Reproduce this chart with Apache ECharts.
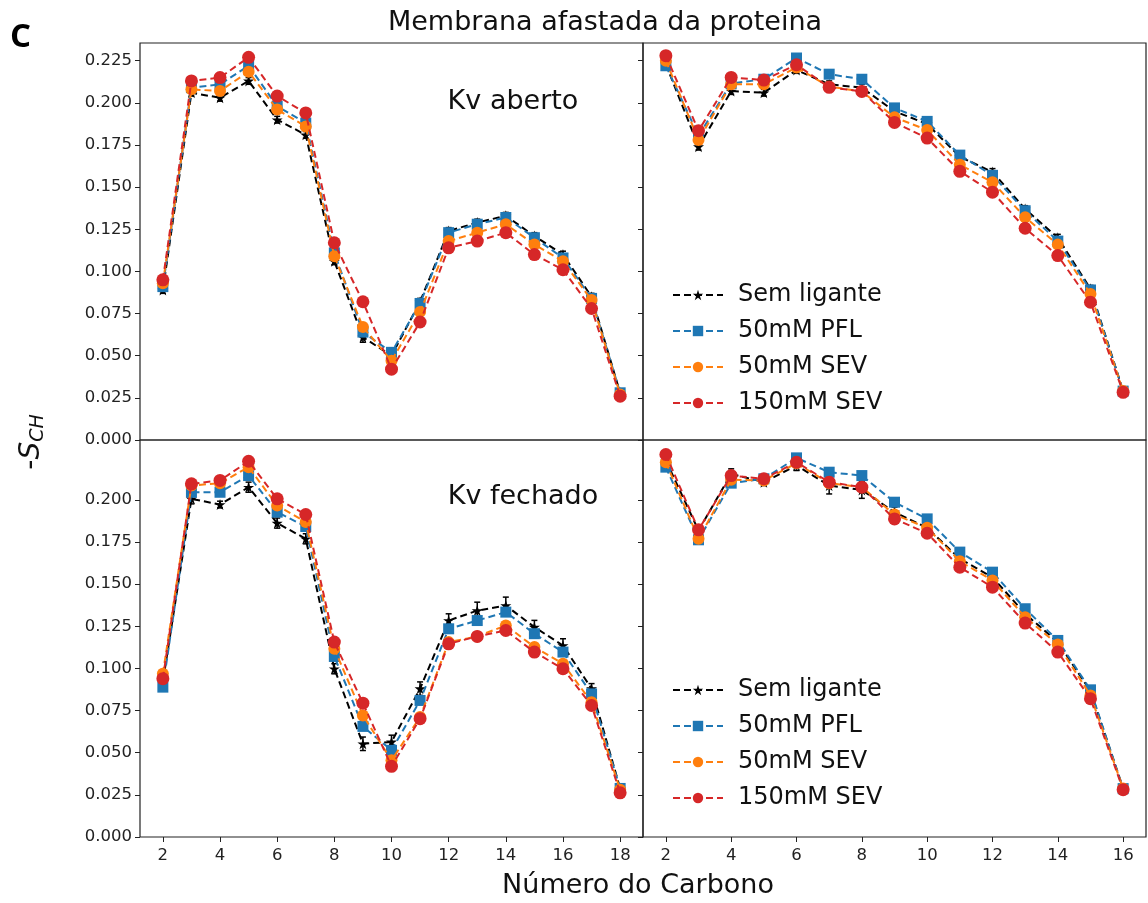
<!DOCTYPE html>
<html>
<head>
<meta charset="utf-8">
<script src="https://cdn.jsdelivr.net/npm/echarts@6/dist/echarts.min.js"></script>
<style>
  html, body { margin: 0; padding: 0; background: #fff; }
  #main { width: 1148px; height: 903px; }
</style>
</head>
<body>
<div id="main"></div>
<script>
// eixo x (numero do carbono)
const carbonLeft = [2, 3, 4, 5, 6, 7, 8, 9, 10, 11, 12, 13, 14, 15, 16, 17, 18];
const carbonRight = [2, 3, 4, 5, 6, 7, 8, 9, 10, 11, 12, 13, 14, 15, 16];
const xTicksLeft = [2, 4, 6, 8, 10, 12, 14, 16, 18];
const xTicksRight = [2, 4, 6, 8, 10, 12, 14, 16];
const yTicksTop = [0, 0.025, 0.05, 0.075, 0.1, 0.125, 0.15, 0.175, 0.2, 0.225];
const yTicksBottom = [0, 0.025, 0.05, 0.075, 0.1, 0.125, 0.15, 0.175, 0.2];

const seriesNames = ["Sem ligante", "50mM PFL", "50mM SEV", "150mM SEV"];

// Kv aberto - painel esquerdo
const abertoEsqSem = [0.089, 0.206, 0.203, 0.213, 0.190, 0.181, 0.106, 0.061, 0.050, 0.082, 0.124, 0.129, 0.133, 0.121, 0.110, 0.085, 0.028];
const abertoEsqPfl = [0.091, 0.209, 0.211, 0.222, 0.198, 0.188, 0.111, 0.064, 0.052, 0.081, 0.123, 0.128, 0.132, 0.120, 0.108, 0.084, 0.028];
const abertoEsqSev50 = [0.093, 0.208, 0.207, 0.2185, 0.196, 0.186, 0.109, 0.067, 0.047, 0.076, 0.118, 0.123, 0.128, 0.116, 0.106, 0.083, 0.027];
const abertoEsqSev150 = [0.095, 0.213, 0.215, 0.227, 0.204, 0.194, 0.117, 0.082, 0.042, 0.070, 0.114, 0.118, 0.123, 0.110, 0.101, 0.078, 0.026];
const abertoEsqErr = [0.002, 0.002, 0.002, 0.002, 0.002, 0.002, 0.002, 0.003, 0.002, 0.002, 0.002, 0.002, 0.002, 0.002, 0.002, 0.002, 0.001];

// Kv aberto - painel direito
const abertoDirSem = [0.223, 0.174, 0.207, 0.206, 0.2195, 0.211, 0.209, 0.195, 0.1875, 0.168, 0.159, 0.137, 0.120, 0.0897, 0.029];
const abertoDirPfl = [0.222, 0.1805, 0.2115, 0.214, 0.2266, 0.217, 0.214, 0.197, 0.189, 0.169, 0.157, 0.136, 0.118, 0.089, 0.029];
const abertoDirSev50 = [0.225, 0.178, 0.211, 0.211, 0.221, 0.2096, 0.2068, 0.1914, 0.1839, 0.1633, 0.1529, 0.1321, 0.1159, 0.0866, 0.029];
const abertoDirSev150 = [0.228, 0.1835, 0.2151, 0.2135, 0.2226, 0.2092, 0.2068, 0.1884, 0.1791, 0.1594, 0.147, 0.1256, 0.1094, 0.0817, 0.0283];
const abertoDirErr = [0.002, 0.002, 0.002, 0.002, 0.002, 0.002, 0.002, 0.002, 0.002, 0.002, 0.002, 0.002, 0.002, 0.002, 0.001];

// Kv fechado - painel esquerdo
const fechadoEsqSem = [0.092, 0.2006, 0.1972, 0.2075, 0.1862, 0.1769, 0.0998, 0.0553, 0.0564, 0.088, 0.1284, 0.1343, 0.1373, 0.1245, 0.1136, 0.088, 0.0288];
const fechadoEsqPfl = [0.0889, 0.2045, 0.2045, 0.2144, 0.1927, 0.1842, 0.1071, 0.0656, 0.0514, 0.081, 0.1235, 0.1284, 0.1334, 0.1206, 0.1097, 0.0849, 0.0288];
const fechadoEsqSev50 = [0.0968, 0.2085, 0.2099, 0.2194, 0.1966, 0.1868, 0.1117, 0.0721, 0.0455, 0.0712, 0.1156, 0.119, 0.1255, 0.1127, 0.1028, 0.080, 0.028];
const fechadoEsqSev150 = [0.0939, 0.2095, 0.2115, 0.2229, 0.2006, 0.1913, 0.1156, 0.0794, 0.0419, 0.0702, 0.1146, 0.119, 0.1225, 0.1097, 0.0998, 0.078, 0.0262];
const fechadoEsqErr = [0.002, 0.003, 0.002, 0.003, 0.003, 0.003, 0.003, 0.004, 0.004, 0.004, 0.004, 0.005, 0.005, 0.004, 0.004, 0.003, 0.002];

// Kv fechado - painel direito
const fechadoDirSem = [0.2233, 0.1818, 0.2154, 0.2105, 0.2204, 0.2085, 0.2059, 0.1927, 0.1834, 0.165, 0.1541, 0.1324, 0.1156, 0.0865, 0.0287];
const fechadoDirPfl = [0.2194, 0.1763, 0.2099, 0.2125, 0.2249, 0.2164, 0.2144, 0.1986, 0.1887, 0.169, 0.1571, 0.1354, 0.1166, 0.0873, 0.0287];
const fechadoDirSev50 = [0.2223, 0.1769, 0.2119, 0.2115, 0.2217, 0.2099, 0.2075, 0.1913, 0.1834, 0.1636, 0.1522, 0.1304, 0.1142, 0.084, 0.0287];
const fechadoDirSev150 = [0.2269, 0.1822, 0.2144, 0.2125, 0.2223, 0.2105, 0.2075, 0.1887, 0.1802, 0.16, 0.1482, 0.1269, 0.1097, 0.082, 0.0281];
const fechadoDirErr = [0.002, 0.002, 0.003, 0.002, 0.003, 0.005, 0.005, 0.003, 0.003, 0.003, 0.003, 0.003, 0.003, 0.002, 0.002];

const FONT = "DejaVu Sans";
const colors = ["#000000", "#1f77b4", "#ff7f0e", "#d62728"];
const starPath = "path://M0,-1 L0.22,-0.31 L0.95,-0.31 L0.36,0.12 L0.59,0.81 L0,0.38 L-0.59,0.81 L-0.36,0.12 L-0.95,-0.31 L-0.22,-0.31 Z";
const symbols = [starPath, "rect", "circle", "circle"];
const symbolSizes = [11, 11, 12, 13];

// paineis: x, series e erros
const panels = [
  { x: carbonLeft, ys: [abertoEsqSem, abertoEsqPfl, abertoEsqSev50, abertoEsqSev150], err: abertoEsqErr },
  { x: carbonRight, ys: [abertoDirSem, abertoDirPfl, abertoDirSev50, abertoDirSev150], err: abertoDirErr },
  { x: carbonLeft, ys: [fechadoEsqSem, fechadoEsqPfl, fechadoEsqSev50, fechadoEsqSev150], err: fechadoEsqErr },
  { x: carbonRight, ys: [fechadoDirSem, fechadoDirPfl, fechadoDirSev50, fechadoDirSev150], err: fechadoDirErr },
];

const gridBox = [
  { left: 140, top: 43 },
  { left: 643, top: 43 },
  { left: 140, top: 440 },
  { left: 643, top: 440 },
];

const chart = echarts.init(document.getElementById("main"));

const grid = gridBox.map((g) => ({
  left: g.left,
  top: g.top,
  width: 503,
  height: 397,
  show: true,
  borderColor: "#222",
  borderWidth: 1.2,
  backgroundColor: "transparent",
}));

const xAxis = gridBox.map((g, i) => {
  const isLeft = i % 2 === 0;
  const isBottom = i >= 2;
  return {
    type: "value",
    gridIndex: i,
    min: isLeft ? 1.2 : 1.3,
    max: isLeft ? 18.8 : 16.7,
    axisLine: { show: false },
    splitLine: { show: false },
    axisTick: {
      show: isBottom,
      length: 5,
      lineStyle: { color: "#222", width: 1 },
      customValues: isLeft ? xTicksLeft : xTicksRight,
    },
    axisLabel: {
      show: isBottom,
      fontFamily: FONT,
      fontSize: 16.5,
      color: "#222",
      margin: 10,
      customValues: isLeft ? xTicksLeft : xTicksRight,
    },
  };
});

const yAxis = gridBox.map((g, i) => {
  const isLeft = i % 2 === 0;
  const ticks = i < 2 ? yTicksTop : yTicksBottom;
  return {
    type: "value",
    gridIndex: i,
    min: 0,
    max: 0.2355,
    axisLine: { show: false },
    splitLine: { show: false },
    axisTick: {
      show: true,
      length: 5,
      lineStyle: { color: "#222", width: 1 },
      customValues: ticks,
    },
    axisLabel: {
      show: isLeft,
      fontFamily: FONT,
      fontSize: 16.5,
      color: "#222",
      margin: 8,
      customValues: ticks,
      formatter: (v) => v.toFixed(3),
    },
  };
});

// barras de erro (somente "Sem ligante")
function renderErr(params, api) {
  const x = api.value(0);
  const lo = api.coord([x, api.value(1)]);
  const hi = api.coord([x, api.value(2)]);
  const style = { stroke: "#000", lineWidth: 1.5 };
  return {
    type: "group",
    children: [
      { type: "line", shape: { x1: lo[0], y1: lo[1], x2: hi[0], y2: hi[1] }, style },
      { type: "line", shape: { x1: lo[0] - 3, y1: lo[1], x2: lo[0] + 3, y2: lo[1] }, style },
      { type: "line", shape: { x1: hi[0] - 3, y1: hi[1], x2: hi[0] + 3, y2: hi[1] }, style },
    ],
  };
}

const series = [];
panels.forEach((p, i) => {
  p.ys.forEach((ys, k) => {
    series.push({
      name: seriesNames[k],
      type: "line",
      xAxisIndex: i,
      yAxisIndex: i,
      data: p.x.map((c, j) => [c, ys[j]]),
      symbol: symbols[k],
      symbolSize: symbolSizes[k],
      showAllSymbol: true,
      color: colors[k],
      itemStyle: { color: colors[k] },
      lineStyle: { color: colors[k], width: 2, type: [7, 4] },
      animation: false,
      z: 3 + k,
    });
    if (k === 0) {
      series.push({
        name: "erro",
        type: "custom",
        xAxisIndex: i,
        yAxisIndex: i,
        renderItem: renderErr,
        data: p.x.map((c, j) => [c, ys[j] - p.err[j], ys[j] + p.err[j]]),
        animation: false,
        z: 3,
      });
    }
  });
});

const legendBase = {
  data: seriesNames,
  orient: "vertical",
  left: 667,
  itemWidth: 50,
  itemHeight: 13,
  itemGap: 12,
  selectedMode: false,
  textStyle: { fontFamily: FONT, fontSize: 24, color: "#111", padding: [0, 0, 0, 10] },
};

chart.setOption({
  backgroundColor: "#fff",
  animation: false,
  grid,
  xAxis,
  yAxis,
  legend: [
    Object.assign({}, legendBase, { top: 278 }),
    Object.assign({}, legendBase, { top: 673 }),
  ],
  graphic: [
    { type: "text", left: 10, top: 21, style: { text: "C", fontFamily: "Open Sans", fontWeight: "bold", fontSize: 33, fill: "#000" } },
    { type: "text", x: 605, y: 23, style: { text: "Membrana afastada da proteina", fontFamily: FONT, fontSize: 27, fill: "#111", align: "center", verticalAlign: "middle" } },
    { type: "text", x: 513, y: 102, style: { text: "Kv aberto", fontFamily: FONT, fontSize: 27, fill: "#111", align: "center", verticalAlign: "middle" } },
    { type: "text", x: 523, y: 497, style: { text: "Kv fechado", fontFamily: FONT, fontSize: 27, fill: "#111", align: "center", verticalAlign: "middle" } },
    { type: "text", x: 638, y: 886, style: { text: "Número do Carbono", fontFamily: FONT, fontSize: 27, fill: "#111", align: "center", verticalAlign: "middle" } },
    {
      type: "text",
      x: 32,
      y: 442,
      rotation: Math.PI / 2,
      style: {
        text: "{a|-}{i|S}{s|CH}",
        align: "center",
        verticalAlign: "middle",
        rich: {
          a: { fontFamily: FONT, fontSize: 28, fill: "#111" },
          i: { fontFamily: FONT, fontSize: 28, fontStyle: "italic", fill: "#111" },
          s: { fontFamily: FONT, fontSize: 19, fontStyle: "italic", fill: "#111", padding: [12, 0, 0, 0] },
        },
      },
    },
  ],
  series,
});
</script>
</body>
</html>
